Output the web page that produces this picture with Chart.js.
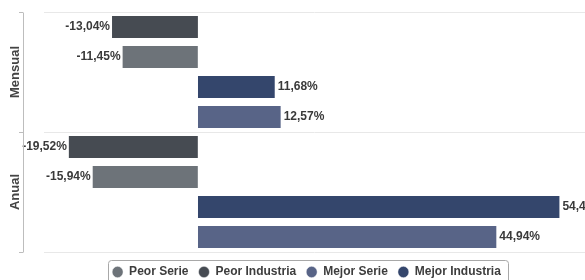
<!DOCTYPE html>
<html>
<head>
<meta charset="utf-8">
<script src="https://cdn.jsdelivr.net/npm/chart.js@4/dist/chart.umd.min.js"></script>
<style>
  html, body { margin: 0; padding: 0; background: #fff; }
  #wrap { width: 585px; height: 280px; }
</style>
</head>
<body>
<div id="wrap"><canvas id="rankingChart"></canvas></div>
<script>
// datos
const categories = ['Mensual', 'Anual'];
const peorIndustria = [-13.04, -19.52];
const peorSerie = [-11.45, -15.94];
const mejorIndustria = [11.68, 54.41];
const mejorSerie = [12.57, 44.94];
const legendOrder = ['Peor Serie', 'Peor Industria', 'Mejor Serie', 'Mejor Industria'];

const fmt = v => v.toFixed(2).replace('.', ',') + '%';

// etiquetas de valor al final de cada barra
const valueLabels = {
    id: 'valueLabels',
    afterDatasetsDraw(chart) {
        const ctx = chart.ctx;
        ctx.save();
        ctx.font = 'bold 12px "Liberation Sans", Arial, sans-serif';
        ctx.fillStyle = '#3a3a3a';
        ctx.textBaseline = 'middle';
        chart.data.datasets.forEach((ds, di) => {
            chart.getDatasetMeta(di).data.forEach((bar, i) => {
                const v = ds.data[i];
                if (v < 0) {
                    ctx.textAlign = 'right';
                    ctx.fillText(fmt(v), bar.x - 1, bar.y);
                } else {
                    ctx.textAlign = 'left';
                    ctx.fillText(fmt(v), bar.x + 2, bar.y);
                }
            });
        });
        ctx.restore();
    }
};

// eje de categorías con corchete y texto vertical
const categoryAxis = {
    id: 'categoryAxis',
    beforeUpdate(chart) {
        const lg = chart.legend;
        if (lg && !lg._patched) {
            const orig = lg.fit;
            lg.fit = function () {
                orig.call(this);
                this.height = 28;
            };
            lg._patched = true;
        }
    },
    afterLayout(chart) {
        // mover la leyenda sin tocar el área del gráfico
        chart.legend.top += 4;
        chart.legend.bottom += 4;
        chart.legend.left += 14;
        chart.legend.right += 14;
    },
    afterDraw(chart) {
        const ctx = chart.ctx;
        const area = chart.chartArea;
        const y = chart.scales.y;
        const lineX = area.left - 21;
        ctx.save();
        ctx.strokeStyle = '#bdbdbd';
        ctx.lineWidth = 1;
        ctx.beginPath();
        ctx.moveTo(lineX + 0.5, area.top + 1);
        ctx.lineTo(lineX + 0.5, area.bottom);
        const step = (area.bottom - area.top) / categories.length;
        for (let i = 0; i <= categories.length; i++) {
            const ty = Math.round(area.top + step * i) + 0.5;
            ctx.moveTo(lineX - 4, ty);
            ctx.lineTo(lineX + 0.5, ty);
        }
        ctx.stroke();

        ctx.font = 'bold 13px "Liberation Sans", Arial, sans-serif';
        ctx.fillStyle = '#444';
        ctx.textAlign = 'center';
        ctx.textBaseline = 'middle';
        categories.forEach((c, i) => {
            ctx.save();
            ctx.translate(lineX - 8, y.getPixelForValue(i));
            ctx.rotate(-Math.PI / 2);
            ctx.fillText(c, 0, 0);
            ctx.restore();
        });

        // marco de la leyenda
        const boxes = chart.legend.legendHitBoxes;
        if (boxes && boxes.length) {
            const l = Math.min(...boxes.map(b => b.left)) - 4;
            const r = Math.max(...boxes.map(b => b.left + b.width)) + 7;
            const cy = boxes[0].top + boxes[0].height / 2;
            ctx.strokeStyle = '#a8a8a8';
            ctx.beginPath();
            ctx.roundRect(Math.round(l) + 0.5, Math.round(cy - 12) + 0.5, Math.round(r - l), 24, 3);
            ctx.stroke();
        }
        ctx.restore();
    }
};

const ctx = document.getElementById('rankingChart').getContext('2d');
const rankingChart = new Chart(ctx, {
    type: 'bar',
    data: {
        labels: categories,
        datasets: [
            { label: 'Peor Industria', data: peorIndustria, backgroundColor: '#464b52' },
            { label: 'Peor Serie', data: peorSerie, backgroundColor: '#6d7379' },
            { label: 'Mejor Industria', data: mejorIndustria, backgroundColor: '#34466c' },
            { label: 'Mejor Serie', data: mejorSerie, backgroundColor: '#586487' }
        ].map(d => Object.assign(d, {
            borderColor: 'rgba(255,255,255,0.45)',
            borderWidth: 1,
            barPercentage: 0.8,
            categoryPercentage: 1.0
        }))
    },
    options: {
        indexAxis: 'y',
        responsive: true,
        maintainAspectRatio: false,
        animation: false,
        layout: { padding: { top: 12, right: 0, bottom: 0, left: 0 } },
        scales: {
            x: {
                display: false,
                min: -23.1,
                max: 58.1
            },
            y: {
                offset: true,
                grid: {
                    offset: true,
                    color: '#e8e8e8',
                    drawTicks: false
                },
                border: { display: false },
                ticks: { display: false },
                afterFit: s => { s.width = 44; }
            }
        },
        plugins: {
            tooltip: { enabled: false },
            legend: {
                position: 'bottom',
                labels: {
                    usePointStyle: true,
                    pointStyle: 'circle',
                    boxWidth: 11,
                    boxHeight: 8,
                    pointStyleWidth: 11,
                    padding: 10,
                    color: '#3d3d3d',
                    font: { family: '"Liberation Sans", Arial, sans-serif', size: 12, weight: 'bold' },
                    sort: (a, b) => legendOrder.indexOf(a.text) - legendOrder.indexOf(b.text)
                }
            }
        }
    },
    plugins: [valueLabels, categoryAxis]
});
</script>
</body>
</html>
